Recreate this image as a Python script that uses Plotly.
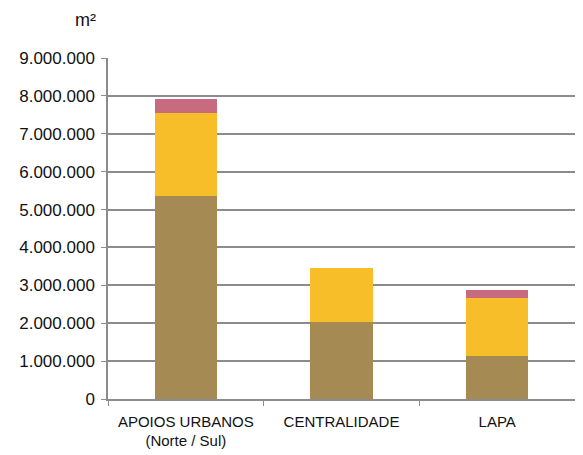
import plotly.graph_objects as go

categories = ["APOIOS URBANOS<br>(Norte / Sul)", "CENTRALIDADE", "LAPA"]
serie_1 = [5360000, 2030000, 1130000]
serie_2 = [2200000, 1430000, 1530000]
serie_3 = [360000, 0, 230000]
series_names = ["Série 1", "Série 2", "Série 3"]
colors = ["#A58A53", "#F7BE2A", "#C86B7E"]
tick_vals = [0, 1000000, 2000000, 3000000, 4000000, 5000000, 6000000, 7000000, 8000000, 9000000]

fig = go.Figure()
for name, vals, col in zip(series_names, [serie_1, serie_2, serie_3], colors):
    fig.add_trace(go.Bar(x=categories, y=vals, name=name, marker_color=col,
                         marker_line_width=0, width=0.4))

fig.update_layout(
    barmode="stack",
    width=575, height=447,
    margin=dict(l=100, r=8, t=50, b=56),
    plot_bgcolor="white", paper_bgcolor="white",
    showlegend=False,
    separators=",.",
    font=dict(family="Liberation Sans", color="#111111"),
    annotations=[dict(text="m²", xref="paper", yref="paper", x=-0.049, y=1.11,
                      xanchor="center", yanchor="middle", showarrow=False,
                      font=dict(size=18, family="Liberation Sans", color="#111111"))],
)
fig.update_yaxes(range=[0, 9000000], tickvals=tick_vals, tickformat=",d",
                 showgrid=True, gridcolor="#8c8c8c", gridwidth=1.5,
                 showline=True, linecolor="#8c8c8c", linewidth=1.5,
                 ticks="outside", ticklen=5, tickcolor="#8c8c8c",
                 tickfont=dict(size=17), zeroline=False, automargin=False,
                 ticklabelstandoff=3)
fig.update_xaxes(showline=True, linecolor="#8c8c8c", linewidth=1.5,
                 ticks="outside", tickson="boundaries", ticklen=5, tickcolor="#8c8c8c",
                 tickfont=dict(size=15), automargin=False, ticklabelstandoff=8)

fig.write_html("out.html")
